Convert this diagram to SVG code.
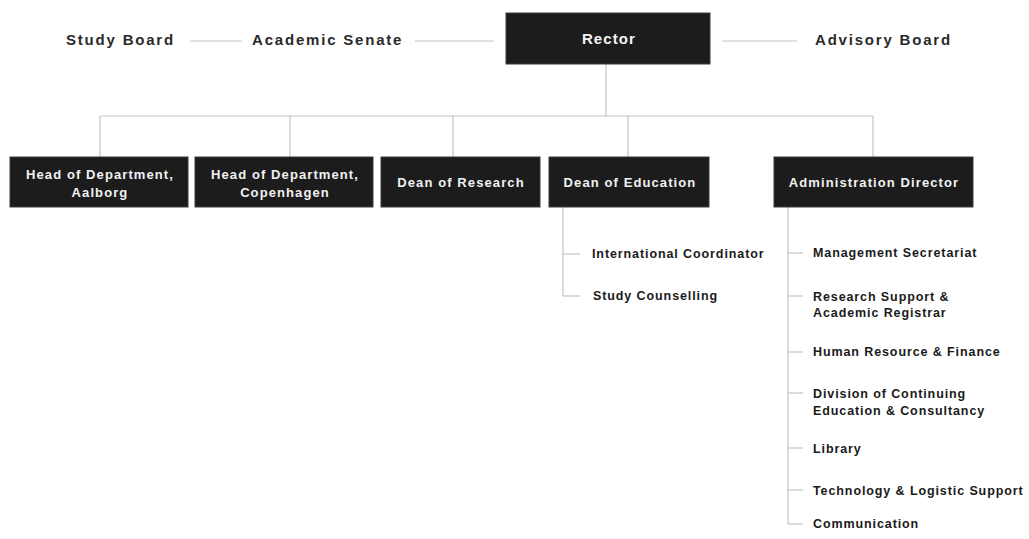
<svg xmlns="http://www.w3.org/2000/svg" width="1029" height="539" viewBox="0 0 1029 539">
<style>
.bg{fill:#ffffff}
.box{fill:#1c1c1c;stroke:#3a3a3a;stroke-width:1}
.bt{font-family:"Liberation Sans",Arial,sans-serif;font-weight:bold;font-size:13px;letter-spacing:1.1px;fill:#f2f2f2;text-anchor:middle}
.top{font-family:"Liberation Sans",Arial,sans-serif;font-weight:bold;font-size:15px;letter-spacing:1.8px;fill:#2a2a2a}
.sm{font-family:"Liberation Sans",Arial,sans-serif;font-weight:bold;font-size:12.5px;letter-spacing:0.9px;fill:#1a1a1a}
.ln{stroke:#c4c4c4;stroke-width:1.2;fill:none}
</style>
<rect class="bg" x="0" y="0" width="1029" height="539"/>
<g id="connectors">
<line class="ln" x1="190" y1="41" x2="242" y2="41"/>
<line class="ln" x1="415" y1="41" x2="494" y2="41"/>
<line class="ln" x1="722" y1="41" x2="797" y2="41"/>
<line class="ln" x1="606" y1="64" x2="606" y2="116"/>
<line class="ln" x1="100" y1="116" x2="873" y2="116"/>
<line class="ln" x1="100" y1="116" x2="100" y2="157"/>
<line class="ln" x1="290" y1="116" x2="290" y2="157"/>
<line class="ln" x1="453" y1="116" x2="453" y2="157"/>
<line class="ln" x1="628" y1="116" x2="628" y2="157"/>
<line class="ln" x1="873" y1="116" x2="873" y2="157"/>
<line class="ln" x1="563" y1="207" x2="563" y2="296"/>
<line class="ln" x1="563" y1="254" x2="580" y2="254"/>
<line class="ln" x1="563" y1="296" x2="580" y2="296"/>
<line class="ln" x1="788" y1="207" x2="788" y2="524"/>
<line class="ln" x1="788" y1="253" x2="803" y2="253"/>
<line class="ln" x1="788" y1="296" x2="803" y2="296"/>
<line class="ln" x1="788" y1="352" x2="803" y2="352"/>
<line class="ln" x1="788" y1="393" x2="803" y2="393"/>
<line class="ln" x1="788" y1="448" x2="803" y2="448"/>
<line class="ln" x1="788" y1="490" x2="803" y2="490"/>
<line class="ln" x1="788" y1="524" x2="803" y2="524"/>
</g>
<g id="study-board"><text class="top" x="66" y="45">Study Board</text></g>
<g id="academic-senate"><text class="top" x="252" y="45">Academic Senate</text></g>
<g id="rector"><rect class="box" x="506" y="13" width="204" height="51"/><text class="bt" x="609" y="44" style="font-size:15px">Rector</text></g>
<g id="advisory-board"><text class="top" x="815" y="45">Advisory Board</text></g>
<g id="head-aalborg"><rect class="box" x="10" y="157" width="178" height="50"/><text class="bt" x="100" y="179">Head of Department,</text><text class="bt" x="100" y="197">Aalborg</text></g>
<g id="head-copenhagen"><rect class="box" x="195" y="157" width="178" height="50"/><text class="bt" x="285" y="179">Head of Department,</text><text class="bt" x="285" y="197">Copenhagen</text></g>
<g id="dean-research"><rect class="box" x="381" y="157" width="159" height="50"/><text class="bt" x="461" y="187">Dean of Research</text></g>
<g id="dean-education"><rect class="box" x="549" y="157" width="160" height="50"/><text class="bt" x="630" y="187">Dean of Education</text></g>
<g id="admin-director"><rect class="box" x="774" y="157" width="199" height="50"/><text class="bt" x="874" y="187">Administration Director</text></g>
<g id="intl-coordinator"><text class="sm" x="592" y="258">International Coordinator</text></g>
<g id="study-counselling"><text class="sm" x="593" y="300">Study Counselling</text></g>
<g id="mgmt-secretariat"><text class="sm" x="813" y="257">Management Secretariat</text></g>
<g id="research-support"><text class="sm" x="813" y="301">Research Support &amp;</text><text class="sm" x="813" y="317">Academic Registrar</text></g>
<g id="hr-finance"><text class="sm" x="813" y="356">Human Resource &amp; Finance</text></g>
<g id="continuing-education"><text class="sm" x="813" y="398">Division of Continuing</text><text class="sm" x="813" y="415">Education &amp; Consultancy</text></g>
<g id="library"><text class="sm" x="813" y="453">Library</text></g>
<g id="technology"><text class="sm" x="813" y="495">Technology &amp; Logistic Support</text></g>
<g id="communication"><text class="sm" x="813" y="528">Communication</text></g>
</svg>
